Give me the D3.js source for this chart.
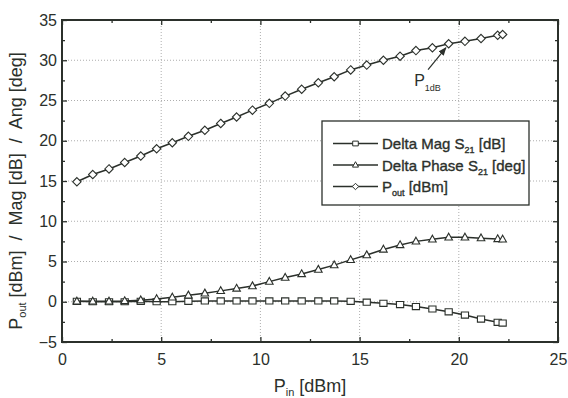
<!DOCTYPE html>
<html>
<head>
<meta charset="utf-8">
<script src="https://cdn.jsdelivr.net/npm/d3@7"></script>
<style>
  body { margin: 0; background: #fff; }
  svg { display: block; font-family: "Liberation Sans", Arial, sans-serif; }
</style>
</head>
<body>
<div id="chart"></div>
<script>
// input power points [dBm]
const pin = [0.75, 1.55, 2.37, 3.16, 3.97, 4.77, 5.56, 6.37, 7.2, 8.0, 8.8, 9.6, 10.45, 11.25,
  12.08, 12.92, 13.72, 14.55, 15.36, 16.2, 17.04, 17.84, 18.67, 19.49, 20.31, 21.12, 21.96, 22.21];
const deltaMag = [0.05, 0.0, 0.0, 0.0, 0.05, 0.0, 0.0, 0.05, 0.1, 0.1, 0.1, 0.1, 0.1, 0.1,
  0.1, 0.1, 0.1, 0.05, -0.05, -0.2, -0.35, -0.6, -0.9, -1.25, -1.65, -2.15, -2.55, -2.65];
const deltaPhase = [0.05, 0.05, 0.05, 0.1, 0.2, 0.35, 0.55, 0.8, 1.05, 1.35, 1.65, 1.95, 2.5, 3.0,
  3.45, 4.0, 4.55, 5.2, 5.8, 6.5, 7.05, 7.5, 7.75, 8.0, 8.0, 7.9, 7.8, 7.75];
const pout = [14.9, 15.8, 16.5, 17.3, 18.1, 19.0, 19.75, 20.55, 21.3, 22.15, 22.95, 23.8, 24.65, 25.55,
  26.4, 27.2, 27.95, 28.8, 29.4, 30.0, 30.5, 31.2, 31.55, 32.05, 32.35, 32.7, 33.1, 33.2];

const xTicks = [0, 5, 10, 15, 20, 25];
const yTicks = [-5, 0, 5, 10, 15, 20, 25, 30, 35];
const xMinor = [2.5, 7.5, 12.5, 17.5, 22.5];
const yMinor = [-2.5, 2.5, 7.5, 12.5, 17.5, 22.5, 27.5, 32.5];

const W = 568, H = 398;
const margin = { top: 20, right: 10, bottom: 56, left: 62 };
const ink = "#2b302b";

const svg = d3.select("#chart").append("svg")
  .attr("width", W).attr("height", H);

const x = d3.scaleLinear().domain([0, 25]).range([margin.left, W - margin.right]);
const y = d3.scaleLinear().domain([-5, 35]).range([H - margin.bottom, margin.top]);

svg.append("defs").append("marker")
  .attr("id", "arrow")
  .attr("viewBox", "0 0 10 10")
  .attr("refX", 9).attr("refY", 5)
  .attr("markerWidth", 7).attr("markerHeight", 7)
  .attr("orient", "auto")
  .append("path").attr("d", "M0,1L10,5L0,9z").attr("fill", ink);

// grid
const grid = svg.append("g").attr("stroke", "#999").attr("stroke-dasharray", "1,2").attr("stroke-width", 0.8);
grid.selectAll(".gx").data(xTicks.slice(1, -1)).enter().append("line")
  .attr("x1", d => x(d)).attr("x2", d => x(d))
  .attr("y1", y(-5)).attr("y2", y(35));
grid.selectAll(".gy").data(yTicks.slice(1, -1)).enter().append("line")
  .attr("x1", x(0)).attr("x2", x(25))
  .attr("y1", d => y(d)).attr("y2", d => y(d));

// axes, ticks inward on all four sides
function addAxis(axis, tr) {
  const g = svg.append("g").attr("transform", tr).call(axis);
  g.select(".domain").remove();
  g.selectAll(".tick line").attr("stroke", ink).attr("stroke-width", 1.3);
  return g;
}
const fmt = d3.format("d");
const bx = addAxis(d3.axisBottom(x).tickValues(xTicks).tickSizeInner(-5).tickSizeOuter(0).tickPadding(12).tickFormat(fmt),
  `translate(0,${y(-5)})`);
bx.selectAll("text").attr("font-size", 16).attr("fill", ink).attr("font-family", "Liberation Sans, Arial, sans-serif");
addAxis(d3.axisBottom(x).tickValues(xMinor).tickSizeInner(-3).tickSizeOuter(0).tickFormat(""), `translate(0,${y(-5)})`);
addAxis(d3.axisTop(x).tickValues(xTicks).tickSizeInner(-5).tickSizeOuter(0).tickFormat(""), `translate(0,${y(35)})`);
addAxis(d3.axisTop(x).tickValues(xMinor).tickSizeInner(-3).tickSizeOuter(0).tickFormat(""), `translate(0,${y(35)})`);

const ly = addAxis(d3.axisLeft(y).tickValues(yTicks).tickSizeInner(-5).tickSizeOuter(0).tickPadding(5).tickFormat(fmt),
  `translate(${x(0)},0)`);
ly.selectAll("text").attr("font-size", 16).attr("fill", ink).attr("font-family", "Liberation Sans, Arial, sans-serif");
addAxis(d3.axisLeft(y).tickValues(yMinor).tickSizeInner(-3).tickSizeOuter(0).tickFormat(""), `translate(${x(0)},0)`);
addAxis(d3.axisRight(y).tickValues(yTicks).tickSizeInner(-5).tickSizeOuter(0).tickFormat(""), `translate(${x(25)},0)`);
addAxis(d3.axisRight(y).tickValues(yMinor).tickSizeInner(-3).tickSizeOuter(0).tickFormat(""), `translate(${x(25)},0)`);

// frame
svg.append("rect")
  .attr("x", x(0)).attr("y", y(35))
  .attr("width", x(25) - x(0)).attr("height", y(-5) - y(35))
  .attr("fill", "none").attr("stroke", ink).attr("stroke-width", 2);

// markers
const shapes = {
  square: s => `M${-s},${-s * 0.85}h${2 * s}v${1.7 * s}h${-2 * s}z`,
  triangle: s => `M0,${-s * 1.1}L${s},${s * 0.7}L${-s},${s * 0.7}z`,
  diamond: s => `M0,${-s}L${s},0L0,${s}L${-s},0z`
};

const series = [
  { name: "mag", values: deltaMag, shape: "square", size: 3.6 },
  { name: "phase", values: deltaPhase, shape: "triangle", size: 3.8 },
  { name: "pout", values: pout, shape: "diamond", size: 4.2 }
];

const line = d3.line().x(d => x(d[0])).y(d => y(d[1]));

series.forEach(s => {
  const pts = pin.map((p, i) => [p, s.values[i]]);
  const g = svg.append("g");
  g.append("path").datum(pts).attr("d", line)
    .attr("fill", "none").attr("stroke", ink).attr("stroke-width", 1.5);
  g.selectAll("path.m").data(pts).enter().append("path").attr("class", "m")
    .attr("transform", d => `translate(${x(d[0])},${y(d[1])})`)
    .attr("d", shapes[s.shape](s.size))
    .attr("fill", "#fff").attr("stroke", ink).attr("stroke-width", 1.1);
});

// P1dB annotation
const arrowFrom = [18.45, 28.85], arrowTo = [19.35, 31.55];
svg.append("line")
  .attr("x1", x(arrowFrom[0])).attr("y1", y(arrowFrom[1]))
  .attr("x2", x(arrowTo[0])).attr("y2", y(arrowTo[1]))
  .attr("stroke", ink).attr("stroke-width", 1.2).attr("marker-end", "url(#arrow)");
const p1 = svg.append("text").attr("x", x(17.75)).attr("y", y(26.8))
  .attr("font-size", 16).attr("fill", ink);
p1.append("tspan").text("P");
p1.append("tspan").attr("font-size", 9).attr("dy", 5).text("1dB");

// legend
const legend = svg.append("g")
  .attr("font-size", 15).attr("fill", ink).attr("stroke", ink).attr("stroke-width", 0.35);
legend.append("rect").attr("x", 322).attr("y", 121).attr("width", 207).attr("height", 84)
  .attr("fill", "#fff").attr("stroke", ink).attr("stroke-width", 1.3);
const legendRows = [
  { label: ["Delta Mag S", "21", " [dB]"], shape: "square", size: 2.8 },
  { label: ["Delta Phase S", "21", " [deg]"], shape: "triangle", size: 3 },
  { label: ["P", "out", " [dBm]"], shape: "diamond", size: 3.2 }
];
legendRows.forEach((r, i) => {
  const ry = 143.5 + i * 21.5;
  legend.append("line").attr("x1", 333).attr("x2", 378).attr("y1", ry).attr("y2", ry)
    .attr("stroke", ink).attr("stroke-width", 1.5);
  legend.append("path").attr("transform", `translate(355.5,${ry})`)
    .attr("d", shapes[r.shape](r.size)).attr("fill", "#fff").attr("stroke", ink).attr("stroke-width", 1);
  const t = legend.append("text").attr("x", 382).attr("y", ry + 5.5);
  t.append("tspan").text(r.label[0]);
  t.append("tspan").attr("font-size", 9).attr("dy", 4).text(r.label[1]);
  t.append("tspan").attr("dy", -4).text(r.label[2]);
});

// axis titles
const xt = svg.append("text").attr("x", x(12.5)).attr("y", 392)
  .attr("text-anchor", "middle").attr("font-size", 18).attr("fill", ink);
xt.append("tspan").text("P");
xt.append("tspan").attr("font-size", 11).attr("dy", 4).text("in");
xt.append("tspan").attr("dy", -4).text(" [dBm]");

const yt = svg.append("text")
  .attr("transform", `translate(22,191) rotate(-90)`)
  .attr("text-anchor", "middle").attr("font-size", 18).attr("fill", ink)
  .style("white-space", "pre");
yt.append("tspan").text("P");
yt.append("tspan").attr("font-size", 11).attr("dy", 4).text("out");
yt.append("tspan").attr("dy", -4).text(" [dBm]  /  Mag [dB]  /  Ang [deg]");
</script>
</body>
</html>
